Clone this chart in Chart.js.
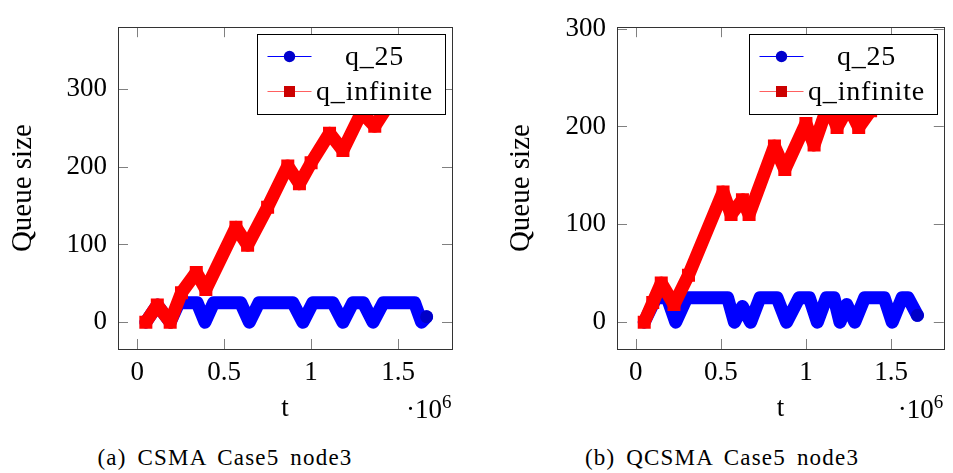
<!DOCTYPE html>
<html>
<head>
<meta charset="utf-8">
<script src="https://cdn.jsdelivr.net/npm/chart.js@4.4.1/dist/chart.umd.min.js"></script>
<style>
  body { margin: 0; background: #fff; width: 953px; height: 473px; position: relative; overflow: hidden; font-family: "Liberation Serif", serif; }
  .panel { position: absolute; top: 0; height: 430px; }
  #panelA { left: 0; width: 476px; }
  #panelB { left: 476px; width: 477px; }
  .caption { position: absolute; top: 446px; font-size: 23px; line-height: 1; letter-spacing: 1.2px; word-spacing: 4px; white-space: nowrap; transform: translateX(-50%); color: #000; }
</style>
</head>
<body>
<div class="panel" id="panelA"><canvas id="chartA"></canvas></div>
<div class="panel" id="panelB"><canvas id="chartB"></canvas></div>
<div class="caption" style="left:225px">(a) CSMA Case5 node3</div>
<div class="caption" style="left:722px">(b) QCSMA Case5 node3</div>
<script>
// series names
const seriesNames = ['q_25', 'q_infinite'];

// (a) CSMA Case5 node3, t in units of 1e6
const tA25 = [0.05, 0.116, 0.19, 0.24, 0.345, 0.39, 0.44, 0.595, 0.645, 0.70, 0.895, 0.953, 1.01, 1.125, 1.183, 1.24, 1.30, 1.356, 1.415, 1.595, 1.635, 1.664];
const qA25 = [0, 22, 0, 25, 25, 0, 25, 25, 0, 25, 25, 0, 25, 25, 0, 25, 25, 0, 25, 25, 0, 7];
const tAInf = [0.05, 0.116, 0.19, 0.255, 0.34, 0.395, 0.568, 0.635, 0.75, 0.866, 0.933, 1.0, 1.106, 1.183, 1.29, 1.366, 1.46, 1.52, 1.57, 1.65];
const qAInf = [0, 22, 0, 38, 64, 42, 122, 99, 148, 201, 178, 205, 243, 221, 270, 252, 285, 300, 290, 345];

// (b) QCSMA Case5 node3
const tB25 = [0.05, 0.12, 0.185, 0.235, 0.30, 0.54, 0.58, 0.627, 0.675, 0.73, 0.83, 0.886, 0.96, 1.02, 1.067, 1.12, 1.165, 1.20, 1.24, 1.287, 1.345, 1.46, 1.507, 1.565, 1.60, 1.655];
const qB25 = [0, 25, 25, 0, 25, 25, 0, 16, 0, 25, 25, 0, 25, 25, 0, 25, 25, 0, 18, 0, 25, 25, 0, 25, 25, 7];
const tBInf = [0.05, 0.10, 0.15, 0.225, 0.31, 0.513, 0.56, 0.627, 0.666, 0.815, 0.876, 1.0, 1.048, 1.13, 1.183, 1.25, 1.31, 1.38, 1.45, 1.50, 1.58, 1.65];
const qBInf = [0, 20, 40, 18, 48, 133, 110, 125, 110, 180, 156, 203, 181, 222, 199, 220, 199, 216, 240, 232, 255, 274];

// ticks
const xTickValues = [0, 0.5e6, 1e6, 1.5e6];
const yTickValues = [0, 100, 200, 300];

// axis ranges (pgfplots enlarged limits)
const xRange = [-0.11e6, 1.81e6];
const yRangeA = [-34.5, 379.5];
const yRangeB = [-27.4, 301.4];

const toPoints = (ts, qs) => ts.map((t, i) => ({ x: t * 1e6, y: qs[i] }));

Chart.defaults.font.family = '"Liberation Serif", serif';
Chart.defaults.font.size = 27;
Chart.defaults.color = '#000';

// frame, inner ticks, legend box and the ·10^6 label, pgfplots style
const pgfPlugin = {
  id: 'pgf',
  afterDatasetsDraw(chart) {
    const { ctx, chartArea: a, scales: { x, y } } = chart;
    ctx.save();
    // inner tick marks
    ctx.strokeStyle = '#808080';
    ctx.lineWidth = 1;
    ctx.beginPath();
    x.ticks.forEach(t => {
      const px = Math.round(x.getPixelForValue(t.value)) + 0.5;
      ctx.moveTo(px, a.bottom); ctx.lineTo(px, a.bottom - 10);
      ctx.moveTo(px, a.top); ctx.lineTo(px, a.top + 10);
    });
    y.ticks.forEach(t => {
      const py = Math.round(y.getPixelForValue(t.value)) + 0.5;
      ctx.moveTo(a.left, py); ctx.lineTo(a.left + 10, py);
      ctx.moveTo(a.right, py); ctx.lineTo(a.right - 10, py);
    });
    ctx.stroke();

    // legend
    const bx = Math.round(a.right - 195) + 0.5, by = Math.round(a.top + 7) + 0.5;
    ctx.fillStyle = '#fff';
    ctx.fillRect(bx, by, 188, 80);
    ctx.strokeStyle = '#000';
    ctx.strokeRect(bx, by, 188, 80);
    const rows = [
      { y: by + 22, line: '#0000ff', mark: '#0000cc', shape: 'circle' },
      { y: by + 57, line: '#ff6060', mark: '#cc0000', shape: 'square' }
    ];
    rows.forEach((r, i) => {
      ctx.strokeStyle = r.line;
      ctx.lineWidth = 1.2;
      ctx.beginPath();
      ctx.moveTo(bx + 10, r.y); ctx.lineTo(bx + 54, r.y);
      ctx.stroke();
      ctx.fillStyle = r.mark;
      if (r.shape === 'circle') {
        ctx.beginPath(); ctx.arc(bx + 32, r.y, 5.7, 0, Math.PI * 2); ctx.fill();
      } else {
        ctx.fillRect(bx + 26.5, r.y - 5.5, 11, 11);
      }
      ctx.fillStyle = '#000';
      ctx.font = '28px "Liberation Serif", serif';
      ctx.letterSpacing = '0.8px';
      ctx.textAlign = 'center';
      ctx.textBaseline = 'alphabetic';
      ctx.fillText(seriesNames[i], bx + 117, r.y + 8);
      ctx.letterSpacing = '0px';
    });

    // frame
    ctx.strokeStyle = '#333';
    ctx.lineWidth = 1;
    ctx.strokeRect(Math.round(a.left) + 0.5, Math.round(a.top) + 0.5, Math.round(a.right - a.left), Math.round(a.bottom - a.top));

    // ·10^6 exponent label
    ctx.fillStyle = '#000';
    ctx.textBaseline = 'alphabetic';
    ctx.textAlign = 'right';
    ctx.font = '27px "Liberation Serif", serif';
    ctx.fillText('·10', a.right - 10, a.bottom + 69);
    ctx.textAlign = 'left';
    ctx.font = '19px "Liberation Serif", serif';
    ctx.fillText('6', a.right - 10, a.bottom + 59);
    ctx.restore();
  }
};

function makeChart(id, t25, q25, tInf, qInf, yRange, yWidth, rightPad, yTitlePad) {
  return new Chart(document.getElementById(id), {
    type: 'line',
    data: {
      datasets: [{
        label: seriesNames[0],
        data: toPoints(t25, q25),
        borderColor: '#0000ff',
        borderWidth: 13,
        borderJoinStyle: 'round',
        borderCapStyle: 'round',
        pointRadius: c => (c.dataIndex === t25.length - 1 ? 6.5 : 0),
        pointBackgroundColor: '#0000c8',
        pointBorderWidth: 0,
        tension: 0,
        order: 1
      }, {
        label: seriesNames[1],
        data: toPoints(tInf, qInf),
        borderColor: '#ff0000',
        borderWidth: 13,
        borderJoinStyle: 'round',
        borderCapStyle: 'butt',
        pointStyle: 'rect',
        pointRadius: 9.2,
        pointBackgroundColor: '#ff0000',
        pointBorderWidth: 0,
        tension: 0,
        order: 0
      }]
    },
    options: {
      responsive: true,
      maintainAspectRatio: false,
      animation: false,
      devicePixelRatio: 1,
      layout: { padding: { top: 15, left: 0, right: rightPad, bottom: 0 } },
      plugins: { legend: { display: false }, tooltip: { enabled: false } },
      scales: {
        x: {
          type: 'linear',
          min: xRange[0],
          max: xRange[1],
          grid: { display: false, drawTicks: false },
          border: { display: false },
          afterBuildTicks: s => { s.ticks = xTickValues.map(v => ({ value: v })); },
          ticks: {
            maxRotation: 0,
            autoSkip: false,
            padding: 8,
            callback: v => String(v / 1e6)
          },
          title: { display: true, text: 't', padding: { top: 0, bottom: 5 } },
          afterFit: s => { s.height = 81; }
        },
        y: {
          type: 'linear',
          min: yRange[0],
          max: yRange[1],
          grid: { display: false, drawTicks: false },
          border: { display: false },
          afterBuildTicks: s => { s.ticks = yTickValues.map(v => ({ value: v })); },
          ticks: { autoSkip: false, padding: 11 },
          title: { display: true, text: 'Queue size', font: { size: 29 }, padding: { top: yTitlePad, bottom: 0 } },
          afterFit: s => { s.width = yWidth; }
        }
      }
    },
    plugins: [pgfPlugin]
  });
}

makeChart('chartA', tA25, qA25, tAInf, qAInf, yRangeA, 118, 24, 6);
makeChart('chartB', tB25, qB25, tBInf, qBInf, yRangeB, 141, 2, 28);
</script>
</body>
</html>
